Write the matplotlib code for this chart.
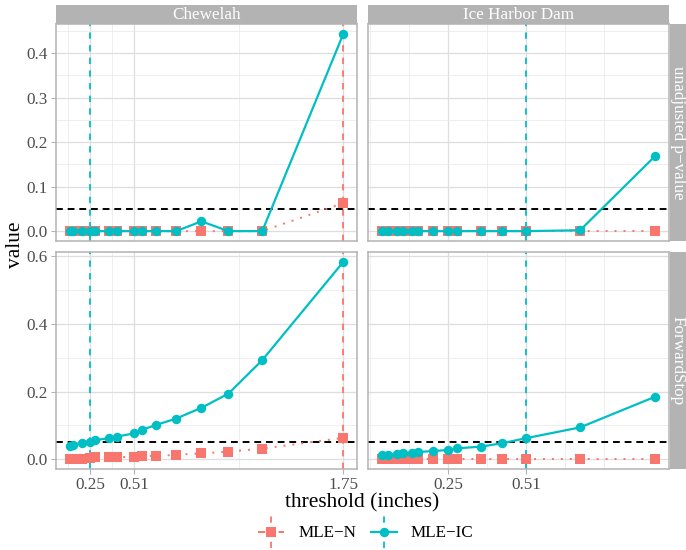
import matplotlib
matplotlib.use("Agg")
import matplotlib.pyplot as plt
from matplotlib.lines import Line2D
from matplotlib.legend_handler import HandlerBase
from matplotlib.ticker import MultipleLocator, FormatStrFormatter, FixedLocator
import numpy as np

plt.rcParams['font.family'] = ['Liberation Serif', 'DejaVu Serif']

# ---- data ----
stations = ["Chewelah", "Ice Harbor Dam"]
measures = ["unadjusted p\u2212value", "ForwardStop"]
methods = ["MLE\u2212N", "MLE\u2212IC"]

chew_thresh = [0.13, 0.15, 0.20, 0.25, 0.28, 0.36, 0.41, 0.51, 0.56, 0.64, 0.76, 0.91, 1.07, 1.27, 1.75]
chew_pval_n = [0, 0, 0, 0, 0, 0, 0, 0, 0, 0, 0, 0, 0, 0, 0.063]
chew_pval_ic = [0, 0, 0, 0, 0, 0, 0, 0, 0, 0, 0, 0.022, 0, 0, 0.443]
chew_fs_n = [0.001, 0.001, 0.001, 0.002, 0.006, 0.007, 0.007, 0.005, 0.010, 0.009, 0.013, 0.017, 0.022, 0.031, 0.063]
chew_fs_ic = [0.039, 0.043, 0.047, 0.052, 0.056, 0.062, 0.067, 0.076, 0.087, 0.101, 0.120, 0.152, 0.194, 0.293, 0.584]

ice_thresh = [0.03, 0.05, 0.08, 0.10, 0.13, 0.15, 0.20, 0.25, 0.28, 0.36, 0.43, 0.51, 0.69, 0.94]
ice_pval_n = [0, 0, 0, 0, 0, 0, 0, 0, 0, 0, 0, 0, 0, 0]
ice_pval_ic = [0, 0, 0, 0, 0, 0, 0, 0, 0, 0, 0, 0, 0.002, 0.169]
ice_fs_n = [0, 0, 0, 0, 0, 0, 0, 0, 0, 0, 0, 0, 0, 0]
ice_fs_ic = [0.012, 0.013, 0.016, 0.017, 0.019, 0.021, 0.024, 0.027, 0.032, 0.037, 0.047, 0.062, 0.094, 0.185]

sel_n = [1.75, None]     # chosen threshold per station, MLE-N
sel_ic = [0.25, 0.51]    # chosen threshold per station, MLE-IC
x_breaks = [0.25, 0.51, 1.75]
alpha_level = 0.05

RED = "#F8766D"
CYAN = "#00BFC4"
GREY70 = "#B3B3B3"
GRID = "#DEDEDE"

W, H = 686, 550
fig = plt.figure(figsize=(W / 100, H / 100), dpi=100)


def px_axes(x0, y0, x1, y1):
    return fig.add_axes([x0 / W, 1 - y1 / H, (x1 - x0) / W, (y1 - y0) / H])


def expand(lo, hi, mult=0.05):
    d = hi - lo
    return lo - mult * d, hi + mult * d


def minor_breaks(b, lims):
    # same idea as ggplot's regular_minor_breaks
    b = [v for v in b if lims[0] <= v <= lims[1]]
    bd = b[1] - b[0]
    if lims[0] < b[0]:
        b = [b[0] - bd] + b
    if lims[1] > b[-1]:
        b = b + [b[-1] + bd]
    out = []
    for a, c in zip(b[:-1], b[1:]):
        out += [a, (a + c) / 2]
    out.append(b[-1])
    return [v for v in out if lims[0] <= v <= lims[1]]


cols_x = [(56, 357), (368, 669)]
rows_y = [(24, 241), (252, 469)]

thresh = [chew_thresh, ice_thresh]
vals_n = [[chew_pval_n, ice_pval_n], [chew_fs_n, ice_fs_n]]
vals_ic = [[chew_pval_ic, ice_pval_ic], [chew_fs_ic, ice_fs_ic]]
y_steps = [0.1, 0.2]

for r in range(2):
    row_all = []
    for c in range(2):
        row_all += vals_n[r][c] + vals_ic[r][c]
    ylim = expand(min(row_all), max(row_all))
    for c in range(2):
        x0, x1 = cols_x[c]
        y0, y1 = rows_y[r]
        ax = px_axes(x0, y0, x1, y1)
        xs = thresh[c]
        xlim = expand(min(xs), max(xs))
        ax.set_xlim(xlim)
        ax.set_ylim(ylim)
        ax.set_facecolor("white")

        majors = [b for b in x_breaks if xlim[0] <= b <= xlim[1]]
        ax.xaxis.set_major_locator(FixedLocator(majors))
        ax.xaxis.set_minor_locator(FixedLocator([m for m in minor_breaks(x_breaks, xlim) if m not in majors]))
        ax.set_xticklabels([f"{b:.2f}" for b in majors])
        ax.yaxis.set_major_locator(MultipleLocator(y_steps[r]))
        ax.yaxis.set_minor_locator(MultipleLocator(y_steps[r] / 2))
        ax.yaxis.set_major_formatter(FormatStrFormatter("%.1f"))

        ax.set_axisbelow(True)
        ax.grid(which="major", color=GRID, lw=0.9)
        ax.grid(which="minor", color="#E8E8E8", lw=0.5)
        for s in ax.spines.values():
            s.set_color(GREY70)
            s.set_linewidth(1.1)

        ax.tick_params(which="minor", length=0)
        ax.tick_params(which="major", color=GREY70, width=0.8, length=3.6, pad=2.5,
                       labelsize=12.3, labelcolor="#4D4D4D")
        if r == 0:
            ax.tick_params(axis="x", length=0, labelbottom=False)
        if c == 1:
            ax.tick_params(axis="y", length=0, labelleft=False)

        # selected thresholds
        if sel_n[c] is not None:
            ax.axvline(sel_n[c], color=RED, lw=1.3, ls=(0, (3.5, 3.5)), zorder=1.2)
        if sel_ic[c] is not None:
            ax.axvline(sel_ic[c], color=CYAN, lw=1.3, ls=(0, (3.5, 3.5)), zorder=1.3)
        ax.axhline(alpha_level, color="black", lw=1.4, ls=(0, (3.5, 2.5)), zorder=1.5)

        ax.plot(xs, vals_n[r][c], color=RED, lw=1.4, ls=(0, (1, 3.6)), zorder=2)
        ax.plot(xs, vals_n[r][c], color=RED, ls="none", marker="s", ms=7.4, mew=0, zorder=2.1)
        ax.plot(xs, vals_ic[r][c], color=CYAN, lw=1.6, ls="-", zorder=2.2)
        ax.plot(xs, vals_ic[r][c], color=CYAN, ls="none", marker="o", ms=6.8, mew=0, zorder=2.3)

        # strips
        if r == 0:
            sax = px_axes(x0, 5, x1, 23.5)
            sax.set_facecolor(GREY70)
            sax.set_xticks([])
            sax.set_yticks([])
            for s in sax.spines.values():
                s.set_visible(False)
            sax.text(0.5, 0.45, stations[c], transform=sax.transAxes, ha="center", va="center",
                     color="white", fontsize=12.3)
        if c == 1:
            sax = px_axes(670, y0, 686, y1)
            sax.set_facecolor(GREY70)
            sax.set_xticks([])
            sax.set_yticks([])
            for s in sax.spines.values():
                s.set_visible(False)
            sax.text(0.5, 0.5, measures[r], transform=sax.transAxes, ha="center", va="center",
                     color="white", fontsize=12.3, rotation=-90)

fig.text(15 / W, 1 - 245 / H, "value", rotation=90, ha="center", va="center", fontsize=15.4)
fig.text(362 / W, 1 - 507 / H, "threshold (inches)", ha="center", va="baseline", fontsize=15.4)


class KeyHandler(HandlerBase):
    def create_artists(self, legend, orig_handle, xdescent, ydescent, width, height, fontsize, trans):
        color = orig_handle.get_color()
        cx = width / 2 - xdescent
        cy = height / 2 - ydescent
        v = Line2D([cx, cx], [-ydescent - 2, height - ydescent + 2], color=color, lw=1.3,
                   ls=(0, (3.5, 3.5)))
        h = Line2D([-xdescent, width - xdescent], [cy, cy], color=color,
                   lw=orig_handle.get_linewidth(), ls=orig_handle.get_linestyle())
        m = Line2D([cx], [cy], color=color, ls="none", marker=orig_handle.get_marker(),
                   ms=orig_handle.get_markersize(), mew=0)
        out = []
        for a in (v, h, m):
            a.set_transform(trans)
            out.append(a)
        return out


h_n = Line2D([], [], color=RED, lw=1.4, ls=(0, (1, 3.6)), marker="s", ms=7.4)
h_ic = Line2D([], [], color=CYAN, lw=1.6, ls="-", marker="o", ms=6.8)
fig.legend([h_n, h_ic], methods, loc="center", bbox_to_anchor=(366 / W, 1 - 532 / H),
           ncol=2, frameon=False, fontsize=12.3, handlelength=1.5, handleheight=2.0,
           handletextpad=0.85, columnspacing=0.85,
           handler_map={h_n: KeyHandler(), h_ic: KeyHandler()})

fig.savefig("out.png", dpi=100)
